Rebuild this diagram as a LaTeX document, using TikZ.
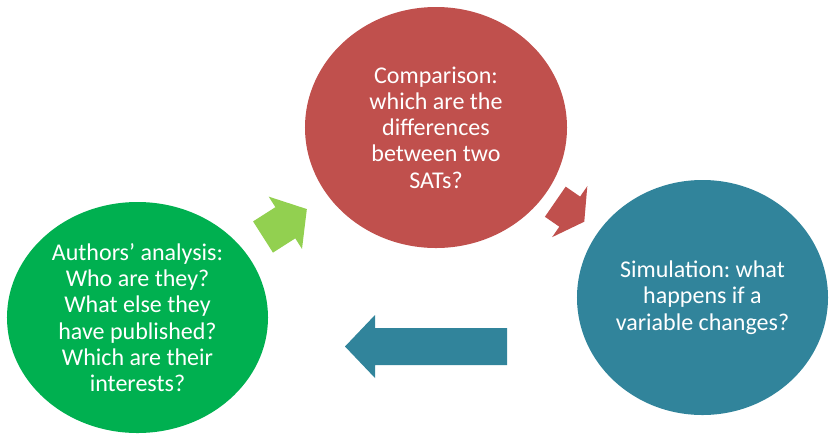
\documentclass[tikz,border=0pt]{standalone}
\usepackage{fontspec}
\setmainfont{Carlito}
\usepackage{xcolor}
\usetikzlibrary{shapes.geometric}
\frenchspacing

\definecolor{authgreen}{HTML}{00B050}
\definecolor{compred}{HTML}{C0504D}
\definecolor{simteal}{HTML}{31849B}
\definecolor{lightgreen}{HTML}{92D050}

\begin{document}
\begin{tikzpicture}[x=0.03cm, y=-0.03cm,
  bubble/.style={ellipse, inner sep=0pt, text=white, align=center,
                 font=\fontsize{20.5}{22.4}\selectfont},
  greenarrow/.style={fill=lightgreen},
  redarrow/.style={fill=compred},
  tealarrow/.style={fill=simteal}]

  \useasboundingbox (0,0) rectangle (830,435);

  % the three stages
  \node[bubble, fill=authgreen, minimum width=7.83cm, minimum height=6.93cm] (authors) at (137.5,317.5)
    {Authors’ analysis:\\Who are they?\\What else they\\have published?\\Which are their\\interests?};
  \node[bubble, fill=compred, minimum width=7.86cm, minimum height=7.23cm] (compare) at (436,127.5)
    {Comparison:\\which are the\\differences\\between two\\SATs?};
  \node[bubble, fill=simteal, minimum width=7.53cm, minimum height=7.05cm] (simul) at (702.5,297.5)
    {Simulation: what\\happens if a\\variable changes?};

  % block arrows between the stages
  \begin{scope}[shift={(263,237)}, rotate=32.5]
    \fill[greenarrow] (0,-18.5) -- (26.5,-18.5) -- (26.5,-31) -- (52,0)
      -- (26.5,31) -- (26.5,18.5) -- (0,18.5) -- cycle;
  \end{scope}

  \begin{scope}[shift={(555.3,201.7)}, rotate=-34.6]
    \fill[redarrow] (0,-18.3) -- (17.5,-18.3) -- (17.5,-31) -- (35.2,0)
      -- (17.5,31) -- (17.5,18.3) -- (0,18.3) -- cycle;
  \end{scope}

  \begin{scope}[shift={(507,346.5)}, rotate=180]
    \fill[tealarrow] (0,-18.5) -- (132,-18.5) -- (132,-31.5) -- (162,0)
      -- (132,31.5) -- (132,18.5) -- (0,18.5) -- cycle;
  \end{scope}

\end{tikzpicture}
\end{document}
